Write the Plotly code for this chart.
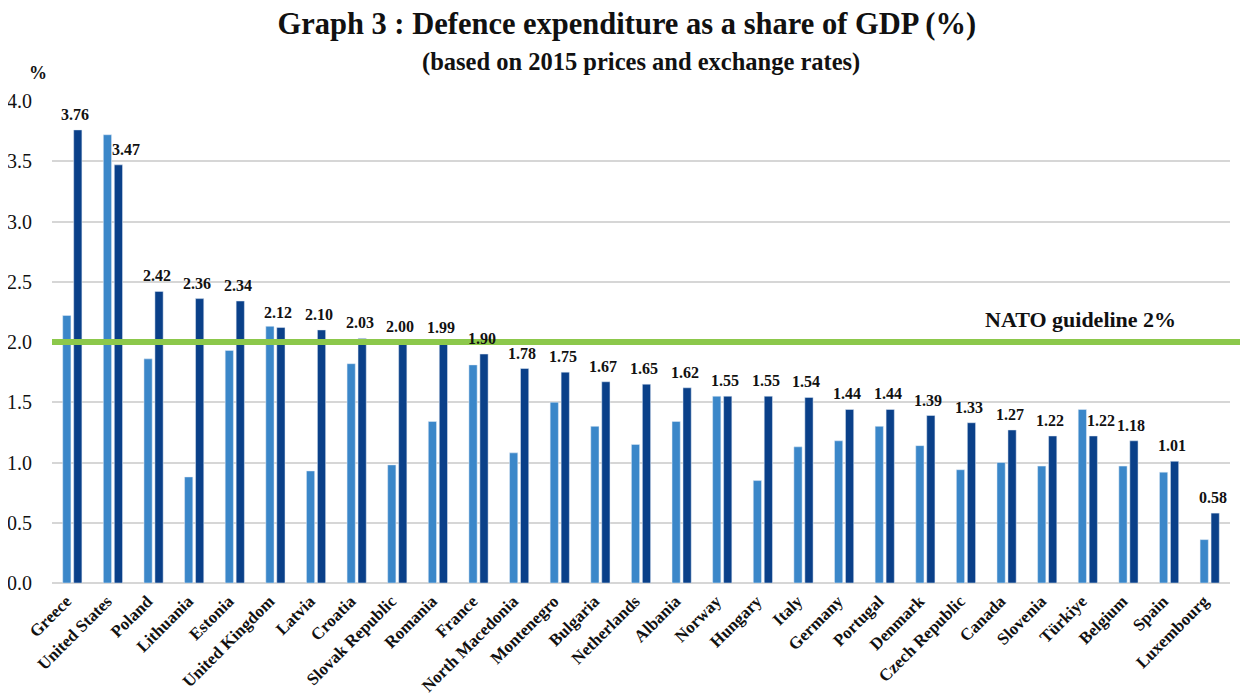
import plotly.graph_objects as go

countries = ["Greece", "United States", "Poland", "Lithuania", "Estonia", "United Kingdom",
             "Latvia", "Croatia", "Slovak Republic", "Romania", "France", "North Macedonia",
             "Montenegro", "Bulgaria", "Netherlands", "Albania", "Norway", "Hungary", "Italy",
             "Germany", "Portugal", "Denmark", "Czech Republic", "Canada", "Slovenia",
             "Türkiye", "Belgium", "Spain", "Luxembourg"]
share_earlier = [2.22, 3.72, 1.86, 0.88, 1.93, 2.13, 0.93, 1.82, 0.98, 1.34, 1.81, 1.08,
                 1.50, 1.30, 1.15, 1.34, 1.55, 0.85, 1.13, 1.18, 1.30, 1.14, 0.94, 1.00,
                 0.97, 1.44, 0.97, 0.92, 0.36]
share_latest = [3.76, 3.47, 2.42, 2.36, 2.34, 2.12, 2.10, 2.03, 2.00, 1.99, 1.90, 1.78,
                1.75, 1.67, 1.65, 1.62, 1.55, 1.55, 1.54, 1.44, 1.44, 1.39, 1.33, 1.27,
                1.22, 1.22, 1.18, 1.01, 0.58]
nato_guideline = 2.0
y_ticks = [0.0, 0.5, 1.0, 1.5, 2.0, 2.5, 3.0, 3.5, 4.0]

SERIF = "Liberation Serif"
INK = "#111111"
LIGHT = "#3b87c9"
DARK = "#0a4089"
GREEN = "#8cc84b"

# the page body adds an 8px margin; the figure is sized to fill the rest of the window
W, H = 1240, 690

fig = go.Figure()
fig.add_trace(go.Bar(x=countries, y=share_earlier, marker_color=LIGHT, showlegend=False,
                     hoverinfo="x+y"))
fig.add_trace(go.Bar(x=countries, y=share_latest, marker_color=DARK, showlegend=False,
                     hoverinfo="x+y"))

# value labels over the latest-year bars (nudged right when the earlier bar is taller)
for c, e, v in zip(countries, share_earlier, share_latest):
    taller_before = e > v + 0.1
    fig.add_annotation(x=c, y=v, text=f"<b>{v:.2f}</b>", showarrow=False,
                       xanchor="center", yanchor="bottom",
                       xshift=13 if taller_before else 3, yshift=5,
                       font=dict(family=SERIF, size=16, color=INK))

# NATO guideline
fig.add_shape(type="line", xref="paper", yref="y", x0=0, x1=1.009,
              y0=nato_guideline, y1=nato_guideline,
              line=dict(color=GREEN, width=6), layer="above")
fig.add_annotation(xref="paper", yref="y", x=0.8735, y=nato_guideline,
                   text="<b>NATO guideline 2%</b>", showarrow=False,
                   xanchor="center", yanchor="bottom", yshift=8,
                   font=dict(family=SERIF, size=22, color=INK))

# axis unit
fig.add_annotation(xref="paper", yref="paper", x=0, y=1.0, text="<b>%</b>",
                   showarrow=False, xanchor="center", yanchor="middle",
                   xshift=-14, yshift=28,
                   font=dict(family=SERIF, size=18, color=INK))

fig.update_layout(
    width=W, height=H,
    margin=dict(l=44, r=18, t=93, b=115, autoexpand=False),
    paper_bgcolor="white", plot_bgcolor="white",
    barmode="group", bargap=0.46, bargroupgap=0.25,
    title=dict(text="<b>Graph 3 : Defence expenditure as a share of GDP (%)</b>",
               x=0.499, xanchor="center", y=0.978, yanchor="middle",
               font=dict(family=SERIF, size=30.5, color=INK)),
)
fig.add_annotation(xref="paper", yref="paper", x=0.5, y=1.0, yanchor="middle",
                   yshift=39, xanchor="center", showarrow=False,
                   text="<b>(based on 2015 prices and exchange rates)</b>",
                   font=dict(family=SERIF, size=24.5, color=INK))

fig.update_xaxes(tickangle=-45, tickfont=dict(family=SERIF, size=17, color=INK),
                 showline=False, ticks="", showgrid=False, automargin=False,
                 ticklabelstandoff=4, ticklabelshift=-6,
                 tickprefix="<b>", ticksuffix="</b>")
fig.update_yaxes(range=[0, 4.0], tickvals=y_ticks, tickformat=".1f",
                 tickfont=dict(family=SERIF, size=20, color=INK),
                 showgrid=True, gridcolor="#d6d6d6", gridwidth=1.5,
                 zeroline=True, zerolinecolor="#d6d6d6", zerolinewidth=1.5,
                 ticklabelstandoff=19, ticks="", automargin=False,
                 tickprefix="<b>", ticksuffix="</b>")

fig.write_html("out.html")
